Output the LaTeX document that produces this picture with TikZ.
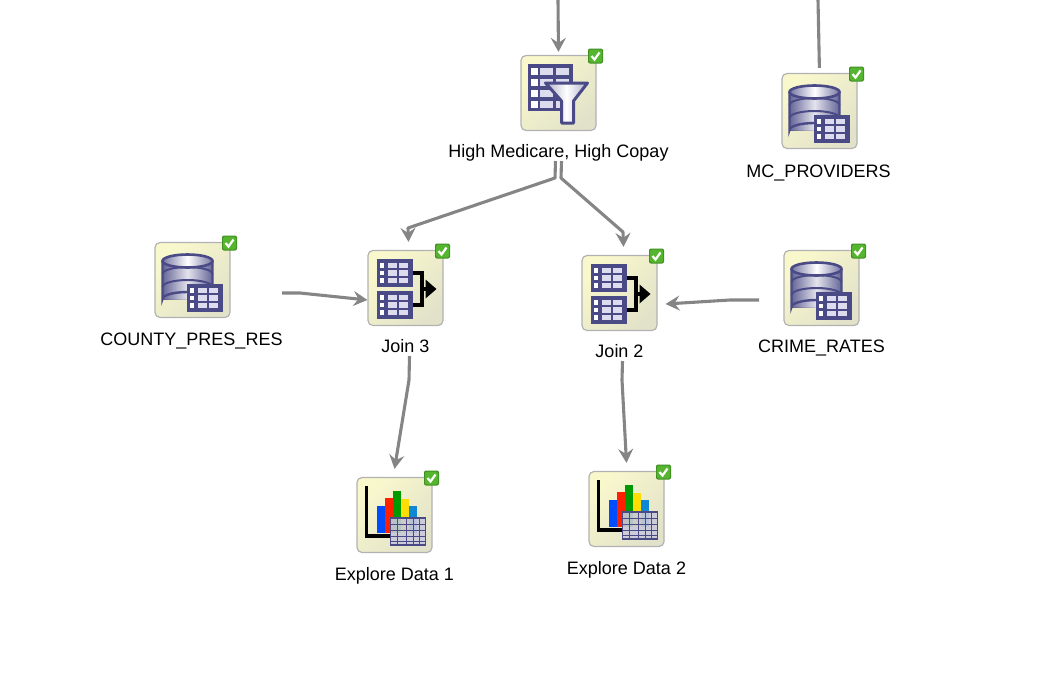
\documentclass[tikz,border=0pt]{standalone}
\usepackage{fontspec}
\setmainfont{Liberation Sans}
\usetikzlibrary{positioning}
\usetikzlibrary{arrows.meta}
\definecolor{navy}{HTML}{4A4A86}
\definecolor{cellc}{HTML}{DCDCEE}
\definecolor{boxa}{HTML}{F9F8CC}
\definecolor{boxb}{HTML}{E2E2CA}
\definecolor{flowc}{HTML}{858585}
\definecolor{okgreen}{HTML}{55B52E}
\definecolor{okedge}{HTML}{3F8F22}
\tikzset{
  iconbox/.style={draw=black!30,line width=1.2pt,rounded corners=5pt,minimum size=75pt,inner sep=0pt,
    shading=axis,left color=boxa,right color=boxb,shading angle=45},
  lbl/.style={font=\fontsize{18}{20}\selectfont,text=black,inner sep=0pt,text height=13pt,text depth=3pt},
  flow/.style={draw=flowc,line width=3.1pt,line join=round},
  flowa/.style={flow,-{Stealth[length=14pt,width=15pt,inset=5pt]}},
  % the small grid icon, #1 = left, #2 = top
  pics/datatab/.style n args={2}{code={
    \fill[navy] (#1,#2) rectangle ++(36,28);
    \foreach \r in {0,1,2}{
      \fill[white] (#1+3.5,#2+4+7.5*\r) rectangle ++(4,4.5);
      \foreach \c in {0,1}{
        \fill[cellc] (#1+11+11.5*\c,#2+3.5+7.5*\r) rectangle ++(9,5.5);
      }
    }
  }},
  pics/okbadge/.style={code={
    \fill[okedge,rounded corners=2pt] (29.5,-44.5) rectangle ++(15,15);
    \fill[okgreen,rounded corners=1.5pt] (30.5,-43.5) rectangle ++(13,13);
    \draw[white,line width=2.2pt] (33,-37) -- (36,-33.5) -- (41,-40.5);
  }},
  pics/dbicon/.style={code={
    \fill[left color=navy!85,right color=navy!85,middle color=white!85!navy] (-30,-19) rectangle (20,19);
    \fill[left color=navy!85,right color=navy!85,middle color=white!85!navy] (-30,19) arc[start angle=180,end angle=360,x radius=25,y radius=7] -- cycle;
    \foreach \y in {-6,7}{
      \draw[navy,line width=2pt] (-30,\y) arc[start angle=180,end angle=360,x radius=25,y radius=7];
    }
    \draw[navy,line width=2.4pt] (-30,-19) -- (-30,19) arc[start angle=180,end angle=360,x radius=25,y radius=7] -- (20,-19);
    \draw[navy,line width=2.6pt,left color=navy!75,right color=navy!75,middle color=white] (-5,-19) ellipse[x radius=25,y radius=6.5];
    \pic {datatab={-6}{4}};
  }},
  pics/filtericon/.style={code={
    \fill[navy] (-31,-29) rectangle (14,18);
    \foreach \r in {0,1,2,3}{
      \fill[white] (-28,-25.5+11*\r) rectangle ++(7,7.5);
      \foreach \c in {0,1}{
        \fill[cellc] (-18.5+15.5*\c,-25.5+11*\r) rectangle ++(13,7.5);
      }
    }
    \draw[navy,line width=3pt,left color=navy!45,right color=navy!45,middle color=white,line join=round]
      (-13,-10) -- (29,-10) -- (15,8) -- (15,30) -- (3,30) -- (3,8) -- cycle;
  }},
  pics/joinicon/.style={code={
    \pic {datatab={-29}{-29}};
    \pic {datatab={-29}{3}};
    \draw[black,line width=3.6pt] (7,-15) -- (16.5,-15) -- (16.5,17) -- (7,17);
    \draw[black,line width=3.6pt] (16.5,1) -- (22,1);
    \fill[black] (20,-8.5) -- (31,1) -- (20,10.5) -- cycle;
  }},
  pics/charticon/.style={code={
    \fill[black] (-30,-29) rectangle (-26.5,22.5);
    \fill[black] (-30,19) rectangle (-4,22.5);
    \fill[blue!70!cyan] (-18,-9) rectangle (-10,18);
    \fill[red!75!orange] (-10,-17) rectangle (-2,18);
    \fill[green!60!black] (-2,-24) rectangle (6,18);
    \fill[yellow!80!orange] (6,-16) rectangle (14,18);
    \fill[cyan!70!blue] (14,-9) rectangle (22,18);
    \fill[navy!30,opacity=.9] (-4,3) rectangle (31,30);
    \draw[navy,line width=1.6pt] (-4,3) rectangle (31,30);
    \foreach \x in {3,12,19,25}{\draw[navy,line width=1pt] (\x,3) -- (\x,30);}
    \foreach \y in {9,15,21,26}{\draw[navy,line width=1pt] (-4,\y) -- (31,\y);}
  }}
}
\begin{document}
\begin{tikzpicture}[x=1pt,y=-1pt]
\useasboundingbox (0,0) rectangle (1043,683);
% icons
\node[iconbox] (filter) at (558.5,93) {};
\node[iconbox] (mcprov) at (819.5,111) {};
\node[iconbox] (county) at (192.5,280) {};
\node[iconbox] (joinc) at (405.5,288) {};
\node[iconbox] (joinb) at (619.5,293) {};
\node[iconbox] (crime) at (821.5,288) {};
\node[iconbox] (exploa) at (394.5,515) {};
\node[iconbox] (explob) at (626.5,509) {};
\pic at (filter) {filtericon};
\pic at (joinc) {joinicon};
\pic at (joinb) {joinicon};
\pic at (exploa) {charticon};
\pic at (explob) {charticon};
\foreach \n in {mcprov,county,crime}{
\pic at (\n) {dbicon};
}
\foreach \n in {filter,mcprov,county,joinc,joinb,crime,exploa,explob}{
\pic at (\n) {okbadge};
}
% labels
\node[lbl,below=13.5pt of filter] (filterlbl) {High Medicare, High Copay};
\node[lbl,below=15.5pt of mcprov,xshift=-1pt] (mcprovlbl) {MC\_PROVIDERS};
\node[lbl,below=14.5pt of county,xshift=-1pt] (countylbl) {COUNTY\_PRES\_RES};
\node[lbl,below=13.5pt of joinc] (joinclbl) {Join 3};
\node[lbl,below=13.5pt of joinb] (joinblbl) {Join 2};
\node[lbl,below=13.5pt of crime] (crimelbl) {CRIME\_RATES};
\node[lbl,below=14.5pt of exploa] (exploalbl) {Explore Data 1};
\node[lbl,below=14.5pt of explob] (exploblbl) {Explore Data 2};
% connectors
\coordinate (topa) at (558,0);
\coordinate (topb) at (818,0);
\coordinate (bendl) at (555,178);
\coordinate (bendr) at (561,178);
\coordinate (countyout) at (282,293);
\coordinate (crimeout) at (759,300);
\draw[flowa,shorten >=3pt] (topa) -- (filter.north);
\draw[flow,shorten >=5pt] (topb) -- (mcprov.north);
\draw[flowa] ([xshift=-3pt]filterlbl.south) -- (bendl) -- (408,228) -- ([xshift=3pt,yshift=8pt]joinc.north);
\draw[flowa] ([xshift=3pt]filterlbl.south) -- (bendr) -- (623,232) -- ([xshift=4pt,yshift=8pt]joinb.north);
\draw[flowa] (countyout) -- (300,293) -- ([yshift=-12pt]joinc.west);
\draw[flowa] (crimeout) -- (730,300) -- ([xshift=8pt,yshift=-11pt]joinb.east);
\draw[flowa] ([xshift=4pt]joinclbl.south) -- (409,380) -- ([yshift=8pt]exploa.north);
\draw[flowa] ([xshift=3pt]joinblbl.south) -- (622,380) -- ([yshift=8pt]explob.north);
\end{tikzpicture}
\end{document}
